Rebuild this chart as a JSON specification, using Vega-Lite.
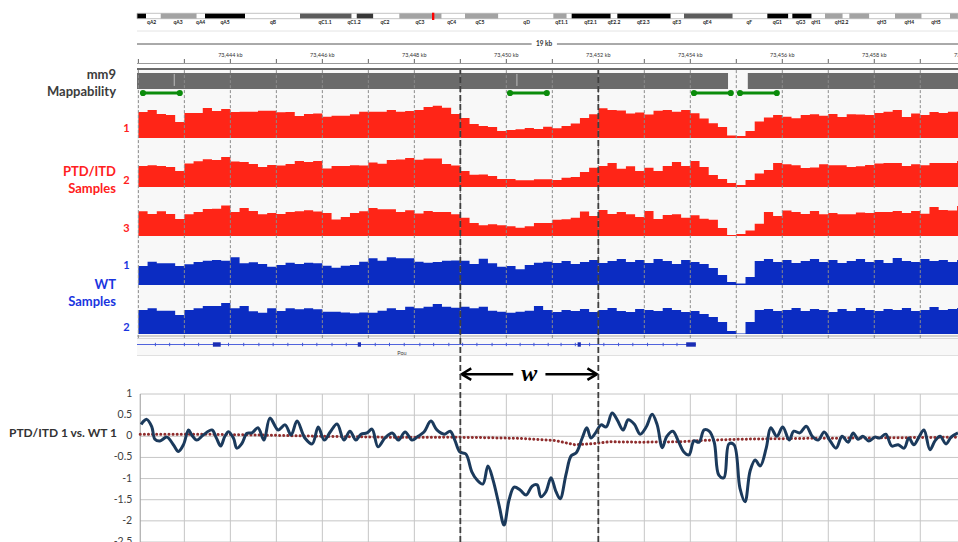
{
"$schema":"https://vega.github.io/schema/vega-lite/v6.json",
"width":958,"height":542,"padding":0,"autosize":{"type":"none"},
"background":"white",
"config":{"view":{"stroke":null},"axis":{"disable":true},"legend":{"disable":true},"font":"Lato"},
"datasets":{
"bands":[{"s":0,"e":1.35,"stain":"gpos100"},{"s":1.35,"e":3.56,"stain":"gneg"},{"s":3.56,"e":8.96,"stain":"gpos50"},{"s":8.96,"e":10.2,"stain":"gneg"},{"s":10.2,"e":16.2,"stain":"gpos100"},{"s":16.2,"e":24.45,"stain":"gneg"},{"s":24.45,"e":32.2,"stain":"gpos75"},{"s":32.2,"e":32.96,"stain":"gneg"},{"s":32.96,"e":35.45,"stain":"gpos90"},{"s":35.45,"e":39.35,"stain":"gneg"},{"s":39.35,"e":45.7,"stain":"gpos50"},{"s":45.7,"e":49.2,"stain":"gneg"},{"s":49.2,"e":54.2,"stain":"gpos50"},{"s":54.2,"e":62.45,"stain":"gneg"},{"s":62.45,"e":64.46,"stain":"gpos50"},{"s":64.46,"e":65.2,"stain":"gneg"},{"s":65.2,"e":71.06,"stain":"gpos100"},{"s":71.06,"e":72.05,"stain":"gneg"},{"s":72.05,"e":80.06,"stain":"gpos100"},{"s":80.06,"e":82.05,"stain":"gneg"},{"s":82.05,"e":89.36,"stain":"gpos75"},{"s":89.36,"e":94.55,"stain":"gneg"},{"s":94.55,"e":97.7,"stain":"gpos100"},{"s":97.7,"e":98.3,"stain":"gneg"},{"s":98.3,"e":101.2,"stain":"gpos100"},{"s":101.2,"e":103.2,"stain":"gneg"},{"s":103.2,"e":105.86,"stain":"gpos50"},{"s":105.86,"e":106.85,"stain":"gneg"},{"s":106.85,"e":109.85,"stain":"gpos50"},{"s":109.85,"e":113.7,"stain":"gneg"},{"s":113.7,"e":117.7,"stain":"gpos50"},{"s":117.7,"e":121.95,"stain":"gneg"},{"s":121.95,"e":123.15,"stain":"gpos50"}],
"bandLabels":[{"name":"qA2","mid":2.2},{"name":"qA3","mid":6.15},{"name":"qA4","mid":9.55},{"name":"qA5","mid":13.2},{"name":"qB","mid":20.4},{"name":"qC1.1","mid":28.2},{"name":"qC1.2","mid":32.55},{"name":"qC2","mid":37.2},{"name":"qC3","mid":42.45},{"name":"qC4","mid":47.2},{"name":"qC5","mid":51.45},{"name":"qD","mid":58.45},{"name":"qE1.1","mid":63.7},{"name":"qE2.1","mid":68.05},{"name":"qE2.2","mid":71.55},{"name":"qE2.3","mid":75.95},{"name":"qE3","mid":80.96},{"name":"qE4","mid":85.55},{"name":"qF","mid":91.85},{"name":"qG1","mid":96.05},{"name":"qG3","mid":99.56},{"name":"qH1","mid":101.85},{"name":"qH2.2","mid":105.7},{"name":"qH3","mid":111.7},{"name":"qH4","mid":115.85},{"name":"qH5","mid":119.85}],
"kbTicks":[{"pos":73442},{"pos":73443},{"pos":73444},{"pos":73445},{"pos":73446},{"pos":73447},{"pos":73448},{"pos":73449},{"pos":73450},{"pos":73451},{"pos":73452},{"pos":73453},{"pos":73454},{"pos":73455},{"pos":73456},{"pos":73457},{"pos":73458},{"pos":73459}],
"rulerLabels":[{"pos":73444,"lab":"73,444 kb"},{"pos":73446,"lab":"73,446 kb"},{"pos":73448,"lab":"73,448 kb"},{"pos":73450,"lab":"73,450 kb"},{"pos":73452,"lab":"73,452 kb"},{"pos":73454,"lab":"73,454 kb"},{"pos":73456,"lab":"73,456 kb"},{"pos":73458,"lab":"73,458 kb"},{"pos":73460,"lab":"73,460 kb"}],
"scaleBar":[{"s":73441.97,"e":73450.55},{"s":73451.1,"e":73459.82}],
"window":[{"pos":73449},{"pos":73452}],
"mapBars":[{"s":73441.97,"e":73454.82},{"s":73455.25,"e":73459.82}],
"mapMarks":[{"pos":73442.78},{"pos":73450.23}],
"uniqueSegs":[{"s":73442.1,"e":73442.9},{"s":73450.08,"e":73450.88},{"s":73454.08,"e":73454.88},{"s":73455.08,"e":73455.88}],
"cov":[
{"pos":73442.0,"r1":26,"r2":21,"r3":24.7,"b1":19,"b2":24},
{"pos":73442.2,"r1":28,"r2":21.7,"r3":22,"b1":23.3,"b2":25.7},
{"pos":73442.4,"r1":24,"r2":21,"r3":24.7,"b1":21.7,"b2":23.3},
{"pos":73442.6,"r1":23,"r2":20,"r3":22,"b1":21.7,"b2":23.3},
{"pos":73442.8,"r1":16,"r2":16,"r3":17,"b1":19,"b2":19},
{"pos":73443.0,"r1":25,"r2":23.5,"r3":21.7,"b1":20.7,"b2":24},
{"pos":73443.2,"r1":25,"r2":25.7,"r3":24,"b1":23,"b2":25.7},
{"pos":73443.4,"r1":30,"r2":27.7,"r3":27,"b1":24.3,"b2":28},
{"pos":73443.6,"r1":27,"r2":27,"r3":27.3,"b1":25,"b2":28},
{"pos":73443.8,"r1":29,"r2":30,"r3":30.5,"b1":24.3,"b2":31},
{"pos":73444.0,"r1":26,"r2":25.5,"r3":24,"b1":27.7,"b2":25.7},
{"pos":73444.2,"r1":26.3,"r2":25,"r3":28,"b1":21.7,"b2":28},
{"pos":73444.4,"r1":26.3,"r2":23,"r3":25,"b1":22.7,"b2":22.7},
{"pos":73444.6,"r1":27.3,"r2":20,"r3":21.7,"b1":21,"b2":21.3},
{"pos":73444.8,"r1":27.3,"r2":22,"r3":23,"b1":18.3,"b2":25.7},
{"pos":73445.0,"r1":25.7,"r2":21.5,"r3":22,"b1":20,"b2":23},
{"pos":73445.2,"r1":26,"r2":23,"r3":24,"b1":22.3,"b2":25.7},
{"pos":73445.4,"r1":22,"r2":26,"r3":24.7,"b1":21,"b2":24.7},
{"pos":73445.6,"r1":24,"r2":25,"r3":25.7,"b1":22.3,"b2":25.7},
{"pos":73445.8,"r1":24.5,"r2":26,"r3":24.5,"b1":21.7,"b2":24.7},
{"pos":73446.0,"r1":21.3,"r2":18.5,"r3":23,"b1":19.3,"b2":22.3},
{"pos":73446.2,"r1":22.3,"r2":21,"r3":16.5,"b1":17.3,"b2":22.3},
{"pos":73446.4,"r1":22.3,"r2":21,"r3":19,"b1":19.3,"b2":21.5},
{"pos":73446.6,"r1":23.7,"r2":21.7,"r3":23,"b1":20,"b2":20.7},
{"pos":73446.8,"r1":26.3,"r2":21.5,"r3":24.7,"b1":23.3,"b2":21.5},
{"pos":73447.0,"r1":26.3,"r2":24.5,"r3":28,"b1":26.7,"b2":21.3},
{"pos":73447.2,"r1":26.3,"r2":23.3,"r3":26.7,"b1":24.3,"b2":23.3},
{"pos":73447.4,"r1":28,"r2":27,"r3":26.7,"b1":27.7,"b2":25.7},
{"pos":73447.6,"r1":26.3,"r2":27.5,"r3":24,"b1":26.7,"b2":24},
{"pos":73447.8,"r1":27,"r2":29,"r3":25.7,"b1":26.7,"b2":27.3},
{"pos":73448.0,"r1":28,"r2":27.3,"r3":22.5,"b1":23.3,"b2":25.7},
{"pos":73448.2,"r1":31,"r2":28.5,"r3":25,"b1":22.3,"b2":27.3},
{"pos":73448.4,"r1":32.3,"r2":28.5,"r3":24,"b1":23,"b2":30},
{"pos":73448.6,"r1":30.3,"r2":23,"r3":24,"b1":24.3,"b2":27.3},
{"pos":73448.8,"r1":24,"r2":21.5,"r3":21.7,"b1":24.5,"b2":26.3},
{"pos":73449.0,"r1":20,"r2":16,"r3":18.3,"b1":24.3,"b2":27.3},
{"pos":73449.2,"r1":14,"r2":12.3,"r3":13,"b1":21,"b2":25.7},
{"pos":73449.4,"r1":12,"r2":12.5,"r3":10.7,"b1":26.3,"b2":27.3},
{"pos":73449.6,"r1":11,"r2":11,"r3":11.7,"b1":21.7,"b2":23.3},
{"pos":73449.8,"r1":7,"r2":8,"r3":10.7,"b1":18.3,"b2":22.3},
{"pos":73450.0,"r1":8,"r2":8,"r3":9.7,"b1":19,"b2":21.3},
{"pos":73450.2,"r1":8.7,"r2":6.8,"r3":8.3,"b1":15.7,"b2":22.3},
{"pos":73450.4,"r1":10,"r2":6.7,"r3":9.7,"b1":20,"b2":23.3},
{"pos":73450.6,"r1":9,"r2":7.7,"r3":13,"b1":22.3,"b2":28},
{"pos":73450.8,"r1":11.3,"r2":7.7,"r3":13,"b1":23.3,"b2":24},
{"pos":73451.0,"r1":9.7,"r2":7,"r3":16.3,"b1":22,"b2":22},
{"pos":73451.2,"r1":12,"r2":9.3,"r3":16.7,"b1":24,"b2":24},
{"pos":73451.4,"r1":14.5,"r2":10,"r3":18.3,"b1":21,"b2":23},
{"pos":73451.6,"r1":20,"r2":15,"r3":24.5,"b1":23,"b2":25},
{"pos":73451.8,"r1":23.7,"r2":19.3,"r3":20,"b1":25,"b2":22},
{"pos":73452.0,"r1":29.7,"r2":21,"r3":26,"b1":22,"b2":24},
{"pos":73452.2,"r1":28,"r2":24,"r3":22,"b1":24,"b2":26},
{"pos":73452.4,"r1":27.5,"r2":18.3,"r3":24,"b1":26,"b2":23},
{"pos":73452.6,"r1":24.5,"r2":20.7,"r3":21.7,"b1":23,"b2":22},
{"pos":73452.8,"r1":25.5,"r2":16,"r3":19,"b1":25,"b2":25},
{"pos":73453.0,"r1":23.5,"r2":19.3,"r3":25,"b1":22,"b2":24},
{"pos":73453.2,"r1":27.3,"r2":16,"r3":17,"b1":26,"b2":23},
{"pos":73453.4,"r1":28,"r2":21,"r3":21,"b1":24,"b2":26},
{"pos":73453.6,"r1":26.3,"r2":25,"r3":21.7,"b1":21,"b2":24},
{"pos":73453.8,"r1":28,"r2":21,"r3":18.3,"b1":25,"b2":22},
{"pos":73454.0,"r1":24.7,"r2":26,"r3":20.7,"b1":23,"b2":23},
{"pos":73454.2,"r1":19.5,"r2":20,"r3":17.3,"b1":21,"b2":20},
{"pos":73454.4,"r1":14.7,"r2":12,"r3":16.3,"b1":17,"b2":17},
{"pos":73454.6,"r1":11,"r2":8,"r3":8,"b1":10,"b2":12},
{"pos":73454.8,"r1":2.5,"r2":4,"r3":1,"b1":3,"b2":3},
{"pos":73455.0,"r1":2,"r2":2,"r3":2,"b1":1.5,"b2":0.5},
{"pos":73455.2,"r1":7,"r2":7,"r3":5.5,"b1":8,"b2":12},
{"pos":73455.4,"r1":16.5,"r2":13.5,"r3":12.3,"b1":24,"b2":24},
{"pos":73455.6,"r1":20.5,"r2":17,"r3":24,"b1":26,"b2":25},
{"pos":73455.8,"r1":23,"r2":24,"r3":20,"b1":23,"b2":23},
{"pos":73456.0,"r1":21.3,"r2":22.7,"r3":25.5,"b1":25,"b2":24},
{"pos":73456.2,"r1":19.7,"r2":21.7,"r3":24,"b1":22,"b2":26},
{"pos":73456.4,"r1":23,"r2":19,"r3":22,"b1":24,"b2":23},
{"pos":73456.6,"r1":23.7,"r2":19.5,"r3":25,"b1":26,"b2":25},
{"pos":73456.8,"r1":22.3,"r2":22.7,"r3":21.7,"b1":23,"b2":24},
{"pos":73457.0,"r1":24,"r2":21.7,"r3":23,"b1":25,"b2":22},
{"pos":73457.2,"r1":21,"r2":21.7,"r3":21.7,"b1":22,"b2":25},
{"pos":73457.4,"r1":23.7,"r2":20,"r3":21.7,"b1":24,"b2":23},
{"pos":73457.6,"r1":23.5,"r2":20.7,"r3":23.5,"b1":26,"b2":26},
{"pos":73457.8,"r1":23,"r2":22,"r3":23,"b1":23,"b2":24},
{"pos":73458.0,"r1":25,"r2":23.5,"r3":24,"b1":25,"b2":23},
{"pos":73458.2,"r1":26.3,"r2":24,"r3":24,"b1":22,"b2":25},
{"pos":73458.4,"r1":28,"r2":24,"r3":25,"b1":27,"b2":24},
{"pos":73458.6,"r1":21,"r2":21,"r3":23,"b1":24,"b2":26},
{"pos":73458.8,"r1":24.5,"r2":22.7,"r3":25,"b1":23,"b2":23},
{"pos":73459.0,"r1":23,"r2":21.7,"r3":22.3,"b1":26,"b2":24},
{"pos":73459.2,"r1":26,"r2":24,"r3":29,"b1":24,"b2":27},
{"pos":73459.4,"r1":25,"r2":24,"r3":26,"b1":25,"b2":24},
{"pos":73459.6,"r1":26.3,"r2":24,"r3":25.5,"b1":23,"b2":25},
{"pos":73459.8,"r1":26.3,"r2":26,"r3":30,"b1":25,"b2":26},
{"pos":73460.0,"r1":26.3,"r2":26,"r3":30,"b1":25,"b2":26}
],
"gene":[{"s":73441.97,"e":73454.12,"name":"Pou","mid":73447.73}],
"exons":[{"s":73443.62,"e":73443.79},{"s":73446.77,"e":73446.84},{"s":73451.55,"e":73451.62},{"s":73453.91,"e":73454.12}],
"strandTicks":[{"pos":73442.37},{"pos":73442.68},{"pos":73443.0},{"pos":73443.31},{"pos":73443.96},{"pos":73444.29},{"pos":73444.62},{"pos":73444.93},{"pos":73445.25},{"pos":73445.57},{"pos":73445.88},{"pos":73446.21},{"pos":73446.52},{"pos":73447.15},{"pos":73447.46},{"pos":73447.78},{"pos":73448.12},{"pos":73448.42},{"pos":73448.75},{"pos":73449.05},{"pos":73449.36},{"pos":73449.69},{"pos":73450.0},{"pos":73450.3},{"pos":73450.6},{"pos":73450.91},{"pos":73451.19},{"pos":73451.5},{"pos":73451.81},{"pos":73452.12},{"pos":73452.44},{"pos":73452.75},{"pos":73453.07},{"pos":73453.41},{"pos":73453.71}],
"grid":[{"v":1,"lab":"1"},{"v":0.5,"lab":"0.5"},{"v":0,"lab":"0"},{"v":-0.5,"lab":"-0.5"},{"v":-1,"lab":"-1"},{"v":-1.5,"lab":"-1.5"},{"v":-2,"lab":"-2"},{"v":-2.5,"lab":"-2.5"}],
"ratio":[{"pos":73442.06,"v":0.28},{"pos":73442.1,"v":0.34},{"pos":73442.18,"v":0.4},{"pos":73442.29,"v":0.23},{"pos":73442.36,"v":-0.07},{"pos":73442.47,"v":-0.11},{"pos":73442.62,"v":-0.02},{"pos":73442.76,"v":-0.2},{"pos":73442.87,"v":-0.36},{"pos":73442.98,"v":-0.2},{"pos":73443.09,"v":0.15},{"pos":73443.16,"v":0.03},{"pos":73443.27,"v":-0.09},{"pos":73443.41,"v":0.03},{"pos":73443.6,"v":0.15},{"pos":73443.7,"v":-0.05},{"pos":73443.79,"v":-0.23},{"pos":73443.88,"v":0.0},{"pos":73443.96,"v":0.11},{"pos":73444.07,"v":-0.05},{"pos":73444.14,"v":-0.28},{"pos":73444.25,"v":-0.17},{"pos":73444.36,"v":0.07},{"pos":73444.47,"v":0.08},{"pos":73444.6,"v":0.2},{"pos":73444.73,"v":-0.09},{"pos":73444.86,"v":0.43},{"pos":73445.04,"v":0.15},{"pos":73445.19,"v":0.27},{"pos":73445.32,"v":0.03},{"pos":73445.45,"v":0.36},{"pos":73445.62,"v":-0.04},{"pos":73445.78,"v":-0.18},{"pos":73445.91,"v":0.22},{"pos":73446.04,"v":-0.09},{"pos":73446.17,"v":0.1},{"pos":73446.32,"v":0.29},{"pos":73446.47,"v":-0.09},{"pos":73446.6,"v":0.12},{"pos":73446.73,"v":-0.09},{"pos":73446.84,"v":0.05},{"pos":73446.97,"v":0.08},{"pos":73447.08,"v":0.17},{"pos":73447.21,"v":-0.25},{"pos":73447.36,"v":-0.04},{"pos":73447.52,"v":0.08},{"pos":73447.65,"v":-0.09},{"pos":73447.8,"v":0.1},{"pos":73447.95,"v":-0.09},{"pos":73448.08,"v":0.0},{"pos":73448.21,"v":0.1},{"pos":73448.36,"v":0.36},{"pos":73448.49,"v":0.15},{"pos":73448.65,"v":0.05},{"pos":73448.78,"v":0.12},{"pos":73448.88,"v":-0.09},{"pos":73448.99,"v":-0.37},{"pos":73449.12,"v":-0.42},{"pos":73449.25,"v":-0.84},{"pos":73449.36,"v":-1.03},{"pos":73449.49,"v":-1.13},{"pos":73449.6,"v":-0.7},{"pos":73449.71,"v":-1.03},{"pos":73449.84,"v":-1.62},{"pos":73449.95,"v":-2.1},{"pos":73450.06,"v":-1.5},{"pos":73450.17,"v":-1.2},{"pos":73450.3,"v":-1.27},{"pos":73450.43,"v":-1.39},{"pos":73450.56,"v":-1.18},{"pos":73450.67,"v":-1.15},{"pos":73450.75,"v":-1.43},{"pos":73450.86,"v":-1.31},{"pos":73450.97,"v":-0.98},{"pos":73451.08,"v":-1.31},{"pos":73451.17,"v":-1.48},{"pos":73451.3,"v":-0.89},{"pos":73451.41,"v":-0.46},{"pos":73451.52,"v":-0.39},{"pos":73451.65,"v":-0.04},{"pos":73451.75,"v":0.2},{"pos":73451.84,"v":-0.04},{"pos":73451.95,"v":0.1},{"pos":73452.06,"v":0.27},{"pos":73452.17,"v":0.22},{"pos":73452.3,"v":0.55},{"pos":73452.41,"v":0.39},{"pos":73452.54,"v":0.15},{"pos":73452.65,"v":0.39},{"pos":73452.78,"v":0.29},{"pos":73452.91,"v":0.05},{"pos":73453.04,"v":0.22},{"pos":73453.17,"v":0.52},{"pos":73453.28,"v":0.27},{"pos":73453.39,"v":-0.27},{"pos":73453.49,"v":0.0},{"pos":73453.62,"v":0.12},{"pos":73453.73,"v":-0.09},{"pos":73453.86,"v":-0.37},{"pos":73453.97,"v":-0.44},{"pos":73454.08,"v":-0.11},{"pos":73454.19,"v":-0.14},{"pos":73454.3,"v":0.15},{"pos":73454.41,"v":0.12},{"pos":73454.52,"v":-0.14},{"pos":73454.62,"v":-0.92},{"pos":73454.73,"v":-0.98},{"pos":73454.84,"v":-0.18},{"pos":73454.95,"v":-0.2},{"pos":73455.08,"v":-1.23},{"pos":73455.19,"v":-1.55},{"pos":73455.3,"v":-0.82},{"pos":73455.41,"v":-0.56},{"pos":73455.52,"v":-0.7},{"pos":73455.65,"v":-0.28},{"pos":73455.75,"v":0.2},{"pos":73455.88,"v":0.0},{"pos":73456.01,"v":0.22},{"pos":73456.15,"v":-0.09},{"pos":73456.25,"v":0.12},{"pos":73456.38,"v":0.08},{"pos":73456.52,"v":0.24},{"pos":73456.65,"v":0.0},{"pos":73456.78,"v":-0.09},{"pos":73456.91,"v":0.1},{"pos":73457.04,"v":-0.11},{"pos":73457.17,"v":-0.28},{"pos":73457.3,"v":0.0},{"pos":73457.43,"v":-0.14},{"pos":73457.54,"v":0.08},{"pos":73457.65,"v":-0.07},{"pos":73457.75,"v":0.0},{"pos":73457.88,"v":-0.11},{"pos":73458.01,"v":-0.02},{"pos":73458.12,"v":-0.04},{"pos":73458.25,"v":0.05},{"pos":73458.38,"v":-0.23},{"pos":73458.52,"v":-0.2},{"pos":73458.65,"v":-0.28},{"pos":73458.75,"v":-0.04},{"pos":73458.86,"v":-0.2},{"pos":73458.97,"v":-0.02},{"pos":73459.08,"v":0.15},{"pos":73459.21,"v":-0.32},{"pos":73459.32,"v":-0.11},{"pos":73459.43,"v":0.0},{"pos":73459.56,"v":-0.18},{"pos":73459.67,"v":-0.02},{"pos":73459.82,"v":0.08}],
"trend":[{"pos":73442.04,"v":0.05},{"pos":73443.34,"v":0.05},{"pos":73444.65,"v":0.03},{"pos":73445.95,"v":0.0},{"pos":73447.25,"v":-0.02},{"pos":73448.56,"v":-0.02},{"pos":73449.43,"v":-0.03},{"pos":73450.3,"v":-0.05},{"pos":73451.06,"v":-0.1},{"pos":73451.49,"v":-0.2},{"pos":73451.82,"v":-0.18},{"pos":73452.25,"v":-0.13},{"pos":73452.91,"v":-0.14},{"pos":73453.78,"v":-0.13},{"pos":73454.21,"v":-0.1},{"pos":73455.08,"v":-0.07},{"pos":73456.39,"v":-0.05},{"pos":73457.69,"v":-0.04},{"pos":73458.99,"v":-0.03},{"pos":73459.82,"v":-0.02}]
},
"resolve":{"scale":{"x":"independent","y":"independent"}},
"layer":[
{"layer":[
 {"data":{"name":"bands"},"mark":{"type":"rect"},"encoding":{"x":{"field":"s","type":"quantitative","scale":{"domain":[0,123.15],"range":[137,958],"nice":false,"zero":false}},"x2":{"field":"e"},"y":{"datum":0,"type":"quantitative","scale":{"domain":[0,1],"range":[18.7,13.3],"nice":false,"zero":false}},"y2":{"datum":1},"color":{"field":"stain","type":"nominal","scale":{"domain":["gneg","gpos50","gpos75","gpos90","gpos100"],"range":["#ffffff","#a3a3a3","#5c5c5c","#363636","#000000"]}}}},
 {"data":{"values":[{}]},"mark":{"type":"rect","filled":false,"color":"#b4b4b4","strokeWidth":0.8},"encoding":{"x":{"datum":0,"type":"quantitative"},"x2":{"datum":123.15},"y":{"datum":0,"type":"quantitative"},"y2":{"datum":1}}},
 {"data":{"values":[{"s":44.25,"e":44.6}]},"mark":{"type":"rect","color":"#ff0000"},"encoding":{"x":{"field":"s","type":"quantitative"},"x2":{"field":"e"},"y":{"datum":-0.24,"type":"quantitative"},"y2":{"datum":1.11}}},
 {"data":{"name":"bandLabels"},"mark":{"type":"text","fontSize":5,"fontWeight":"bold","color":"#222222","baseline":"middle"},"encoding":{"x":{"field":"mid","type":"quantitative"},"y":{"datum":-0.62,"type":"quantitative"},"text":{"field":"name"}}}
]},
{"layer":[
 {"data":{"values":[{}]},"mark":{"type":"rule","color":"#e4e4e4"},"encoding":{"x":{"datum":73441.97,"type":"quantitative","scale":{"domain":[73441.97,73459.82],"range":[137,958],"nice":false,"zero":false}},"x2":{"datum":73459.82},"y":{"datum":7.22,"type":"quantitative","scale":{"domain":[0,1],"range":[63.5,59],"nice":false,"zero":false}}}},
 {"data":{"name":"scaleBar"},"mark":{"type":"rule","color":"#555555"},"encoding":{"x":{"field":"s","type":"quantitative"},"x2":{"field":"e"},"y":{"datum":4.33,"type":"quantitative"}}},
 {"data":{"values":[{}]},"mark":{"type":"text","text":"19 kb","fontSize":6.5,"fontWeight":"bold","color":"#333333","baseline":"middle"},"encoding":{"x":{"datum":73450.82,"type":"quantitative"},"y":{"datum":4.33,"type":"quantitative"}}},
 {"data":{"name":"rulerLabels"},"mark":{"type":"text","fontSize":5.5,"color":"#333333","baseline":"middle"},"encoding":{"x":{"field":"pos","type":"quantitative"},"y":{"datum":2,"type":"quantitative"},"text":{"field":"lab"}}},
 {"data":{"name":"kbTicks"},"mark":{"type":"rule","color":"#666666"},"encoding":{"x":{"field":"pos","type":"quantitative"},"y":{"datum":0,"type":"quantitative"},"y2":{"datum":1}}},
 {"data":{"values":[{}]},"mark":{"type":"rule","color":"#9a9a9a"},"encoding":{"x":{"datum":73441.97,"type":"quantitative"},"x2":{"datum":73459.82},"y":{"datum":0,"type":"quantitative"}}},
 {"data":{"values":[{}]},"mark":{"type":"rule","color":"#6a6a6a","strokeWidth":2},"encoding":{"x":{"datum":73441.97,"type":"quantitative"},"x2":{"datum":73459.82},"y":{"datum":-1.22,"type":"quantitative"}}}
]},
{"data":{"values":[{}]},"mark":{"type":"rect","color":"#f8f8f8"},"encoding":{"x":{"datum":73441.97,"type":"quantitative","scale":{"domain":[73441.97,73459.82],"range":[137,958],"nice":false,"zero":false}},"x2":{"datum":73459.82},"y":{"datum":0.394,"type":"quantitative","scale":{"domain":[0,1],"range":[542,70],"nice":false,"zero":false}},"y2":{"datum":1}}},
{"layer":[
 {"data":{"name":"mapBars"},"mark":{"type":"rect","color":"#6b6b6b"},"encoding":{"x":{"field":"s","type":"quantitative","scale":{"domain":[73441.97,73459.82],"range":[137,958],"nice":false,"zero":false}},"x2":{"field":"e"},"y":{"datum":0,"type":"quantitative","scale":{"domain":[0,1],"range":[89,73],"nice":false,"zero":false}},"y2":{"datum":1}}},
 {"data":{"name":"mapMarks"},"mark":{"type":"rule","color":"#bdbdbd"},"encoding":{"x":{"field":"pos","type":"quantitative"},"y":{"datum":0.19,"type":"quantitative"},"y2":{"datum":0.94}}},
 {"data":{"name":"uniqueSegs"},"mark":{"type":"rule","color":"#0b8c0b","strokeWidth":3},"encoding":{"x":{"field":"s","type":"quantitative"},"x2":{"field":"e"},"y":{"datum":-0.25,"type":"quantitative"}}},
 {"data":{"name":"uniqueSegs"},"mark":{"type":"point","filled":true,"color":"#0b8c0b","size":38,"opacity":1},"encoding":{"x":{"field":"s","type":"quantitative"},"y":{"datum":-0.25,"type":"quantitative"}}},
 {"data":{"name":"uniqueSegs"},"mark":{"type":"point","filled":true,"color":"#0b8c0b","size":38,"opacity":1},"encoding":{"x":{"field":"e","type":"quantitative"},"y":{"datum":-0.25,"type":"quantitative"}}},
 {"data":{"values":[{}]},"mark":{"type":"text","text":"mm9\nMappability","lineBreak":"\n","lineHeight":17,"align":"right","baseline":"middle","dx":-21,"fontSize":13,"fontWeight":"bold","color":"#3c3c3c"},"encoding":{"x":{"datum":73441.97,"type":"quantitative"},"y":{"datum":0.875,"type":"quantitative"}}}
]},
{"layer":[
 {"data":{"name":"cov"},"mark":{"type":"area","interpolate":"step-after","color":"#ff2517","opacity":1},"encoding":{"x":{"field":"pos","type":"quantitative","scale":{"domain":[73441.97,73459.82],"range":[137,958],"nice":false,"zero":false}},"y":{"field":"r1","type":"quantitative","scale":{"domain":[0,40],"range":[138,98],"nice":false}}}},
 {"data":{"values":[{}]},"mark":{"type":"text","text":"1","fontSize":11,"fontWeight":"bold","color":"#ff2020","align":"center","baseline":"middle","dx":-10.5},"encoding":{"x":{"datum":73441.97,"type":"quantitative"},"y":{"datum":9,"type":"quantitative"}}}
]},
{"layer":[
 {"data":{"name":"cov"},"mark":{"type":"area","interpolate":"step-after","color":"#ff2517","opacity":1},"encoding":{"x":{"field":"pos","type":"quantitative","scale":{"domain":[73441.97,73459.82],"range":[137,958],"nice":false,"zero":false}},"y":{"field":"r2","type":"quantitative","scale":{"domain":[0,40],"range":[187,147],"nice":false}}}},
 {"data":{"values":[{}]},"mark":{"type":"text","text":"2","fontSize":11,"fontWeight":"bold","color":"#ff2020","align":"center","baseline":"middle","dx":-10.5},"encoding":{"x":{"datum":73441.97,"type":"quantitative"},"y":{"datum":6,"type":"quantitative"}}},
 {"data":{"values":[{}]},"mark":{"type":"text","text":"PTD/ITD\nSamples","lineBreak":"\n","lineHeight":17,"fontSize":13,"fontWeight":"bold","color":"#ff2020","align":"right","baseline":"middle","dx":-21},"encoding":{"x":{"datum":73441.97,"type":"quantitative"},"y":{"datum":15,"type":"quantitative"}}}
]},
{"layer":[
 {"data":{"name":"cov"},"mark":{"type":"area","interpolate":"step-after","color":"#ff2517","opacity":1},"encoding":{"x":{"field":"pos","type":"quantitative","scale":{"domain":[73441.97,73459.82],"range":[137,958],"nice":false,"zero":false}},"y":{"field":"r3","type":"quantitative","scale":{"domain":[0,40],"range":[236,196],"nice":false}}}},
 {"data":{"values":[{}]},"mark":{"type":"text","text":"3","fontSize":11,"fontWeight":"bold","color":"#ff2020","align":"center","baseline":"middle","dx":-10.5},"encoding":{"x":{"datum":73441.97,"type":"quantitative"},"y":{"datum":7,"type":"quantitative"}}}
]},
{"layer":[
 {"data":{"name":"cov"},"mark":{"type":"area","interpolate":"step-after","color":"#0b2cc2","opacity":1},"encoding":{"x":{"field":"pos","type":"quantitative","scale":{"domain":[73441.97,73459.82],"range":[137,958],"nice":false,"zero":false}},"y":{"field":"b1","type":"quantitative","scale":{"domain":[0,40],"range":[285,245],"nice":false}}}},
 {"data":{"values":[{}]},"mark":{"type":"text","text":"1","fontSize":11,"fontWeight":"bold","color":"#1a35e0","align":"center","baseline":"middle","dx":-10.5},"encoding":{"x":{"datum":73441.97,"type":"quantitative"},"y":{"datum":19,"type":"quantitative"}}},
 {"data":{"values":[{}]},"mark":{"type":"text","text":"WT\nSamples","lineBreak":"\n","lineHeight":17,"fontSize":13,"fontWeight":"bold","color":"#1a35e0","align":"right","baseline":"middle","dx":-21},"encoding":{"x":{"datum":73441.97,"type":"quantitative"},"y":{"datum":0,"type":"quantitative"}}}
]},
{"layer":[
 {"data":{"name":"cov"},"mark":{"type":"area","interpolate":"step-after","color":"#0b2cc2","opacity":1},"encoding":{"x":{"field":"pos","type":"quantitative","scale":{"domain":[73441.97,73459.82],"range":[137,958],"nice":false,"zero":false}},"y":{"field":"b2","type":"quantitative","scale":{"domain":[0,40],"range":[334,294],"nice":false}}}},
 {"data":{"values":[{}]},"mark":{"type":"text","text":"2","fontSize":11,"fontWeight":"bold","color":"#1a35e0","align":"center","baseline":"middle","dx":-10.5},"encoding":{"x":{"datum":73441.97,"type":"quantitative"},"y":{"datum":6,"type":"quantitative"}}}
]},
{"layer":[
 {"data":{"values":[{}]},"mark":{"type":"rule","color":"#a8a8a8"},"encoding":{"x":{"datum":73441.97,"type":"quantitative","scale":{"domain":[73441.97,73459.82],"range":[137,958],"nice":false,"zero":false}},"x2":{"datum":73459.82},"y":{"datum":2.43,"type":"quantitative","scale":{"domain":[0,1],"range":[346.7,342.3],"nice":false,"zero":false}}}},
 {"data":{"values":[{}]},"mark":{"type":"rule","color":"#d8d8d8"},"encoding":{"x":{"datum":73441.97,"type":"quantitative"},"x2":{"datum":73459.82},"y":{"datum":1.86,"type":"quantitative"}}},
 {"data":{"values":[{}]},"mark":{"type":"rule","color":"#e0e0e0"},"encoding":{"x":{"datum":73441.97,"type":"quantitative"},"x2":{"datum":73459.82},"y":{"datum":-2.0,"type":"quantitative"}}},
 {"data":{"name":"gene"},"mark":{"type":"rule","color":"#5063dc"},"encoding":{"x":{"field":"s","type":"quantitative"},"x2":{"field":"e"},"y":{"datum":0.5,"type":"quantitative"}}},
 {"data":{"name":"strandTicks"},"mark":{"type":"rule","color":"#4357d6"},"encoding":{"x":{"field":"pos","type":"quantitative"},"y":{"datum":0.12,"type":"quantitative"},"y2":{"datum":0.88}}},
 {"data":{"name":"exons"},"mark":{"type":"rect","color":"#1a2db4"},"encoding":{"x":{"field":"s","type":"quantitative"},"x2":{"field":"e"},"y":{"datum":0,"type":"quantitative"},"y2":{"datum":1}}},
 {"data":{"name":"gene"},"mark":{"type":"text","fontSize":5.5,"color":"#444444","baseline":"middle"},"encoding":{"x":{"field":"mid","type":"quantitative"},"y":{"datum":-1.36,"type":"quantitative"},"text":{"field":"name"}}}
]},
{"layer":[
 {"data":{"name":"grid"},"mark":{"type":"rule","color":"#c6c6c6"},"encoding":{"x":{"datum":73442.04,"type":"quantitative","scale":{"domain":[73441.97,73459.82],"range":[137,958],"nice":false,"zero":false}},"x2":{"datum":73459.82},"y":{"field":"v","type":"quantitative","scale":{"domain":[-2.5,1],"range":[542,394],"nice":false,"zero":false}}}},
 {"data":{"name":"kbTicks"},"transform":[{"filter":"datum.pos >= 73443"}],"mark":{"type":"rule","color":"#c6c6c6"},"encoding":{"x":{"field":"pos","type":"quantitative"},"y":{"datum":-2.5,"type":"quantitative"},"y2":{"datum":1}}},
 {"data":{"values":[{}]},"mark":{"type":"rule","color":"#9a9a9a"},"encoding":{"x":{"datum":73442.04,"type":"quantitative"},"y":{"datum":-2.5,"type":"quantitative"},"y2":{"datum":1}}},
 {"data":{"name":"grid"},"mark":{"type":"text","align":"right","baseline":"middle","dx":-8,"fontSize":10.5,"color":"#404040"},"encoding":{"x":{"datum":73442.04,"type":"quantitative"},"y":{"field":"v","type":"quantitative"},"text":{"field":"lab"}}},
 {"data":{"name":"trend"},"mark":{"type":"line","color":"#8f2d2d","strokeWidth":3,"strokeDash":[0.1,4],"strokeCap":"round"},"encoding":{"x":{"field":"pos","type":"quantitative"},"y":{"field":"v","type":"quantitative"}}},
 {"data":{"name":"ratio"},"mark":{"type":"line","interpolate":"catmull-rom","color":"#1b3a5c","strokeWidth":3},"encoding":{"x":{"field":"pos","type":"quantitative"},"y":{"field":"v","type":"quantitative"}}},
 {"data":{"values":[{}]},"mark":{"type":"text","text":"PTD/ITD 1 vs. WT 1","align":"right","baseline":"middle","dx":-20,"fontSize":12,"fontWeight":"bold","color":"#333333"},"encoding":{"x":{"datum":73441.97,"type":"quantitative"},"y":{"datum":0.08,"type":"quantitative"}}},
 {"data":{"values":[{"s":73449.05,"e":73450.15},{"s":73450.85,"e":73451.95}]},"mark":{"type":"rule","color":"#000000","strokeWidth":2.5},"encoding":{"x":{"field":"s","type":"quantitative"},"x2":{"field":"e"},"y":{"datum":1.47,"type":"quantitative"}}},
 {"data":{"values":[{}]},"mark":{"type":"point","shape":"M1.67,-1L0,0L1.67,1","filled":false,"color":"#000000","strokeWidth":2.5,"size":130,"opacity":1},"encoding":{"x":{"datum":73449.03,"type":"quantitative"},"y":{"datum":1.47,"type":"quantitative"}}},
 {"data":{"values":[{}]},"mark":{"type":"point","shape":"M-1.67,-1L0,0L-1.67,1","filled":false,"color":"#000000","strokeWidth":2.5,"size":130,"opacity":1},"encoding":{"x":{"datum":73451.97,"type":"quantitative"},"y":{"datum":1.47,"type":"quantitative"}}},
 {"data":{"values":[{}]},"mark":{"type":"text","text":"w","font":"Liberation Serif","fontStyle":"italic","fontWeight":"bold","fontSize":24,"color":"#000000","align":"center","baseline":"alphabetic"},"encoding":{"x":{"datum":73450.5,"type":"quantitative"},"y":{"datum":1.31,"type":"quantitative"}}}
]},
{"layer":[
 {"data":{"name":"kbTicks"},"mark":{"type":"rule","color":"#8c8c8c","strokeDash":[3,2]},"encoding":{"x":{"field":"pos","type":"quantitative","scale":{"domain":[73441.97,73459.82],"range":[137,958],"nice":false,"zero":false}},"y":{"datum":0.432,"type":"quantitative","scale":{"domain":[0,1],"range":[542,70],"nice":false,"zero":false}},"y2":{"datum":1}}},
 {"data":{"name":"window"},"mark":{"type":"rule","color":"#3f3f3f","strokeWidth":1.8,"strokeDash":[6,3]},"encoding":{"x":{"field":"pos","type":"quantitative"},"y":{"datum":0,"type":"quantitative"},"y2":{"datum":1}}}
]}
]
}
